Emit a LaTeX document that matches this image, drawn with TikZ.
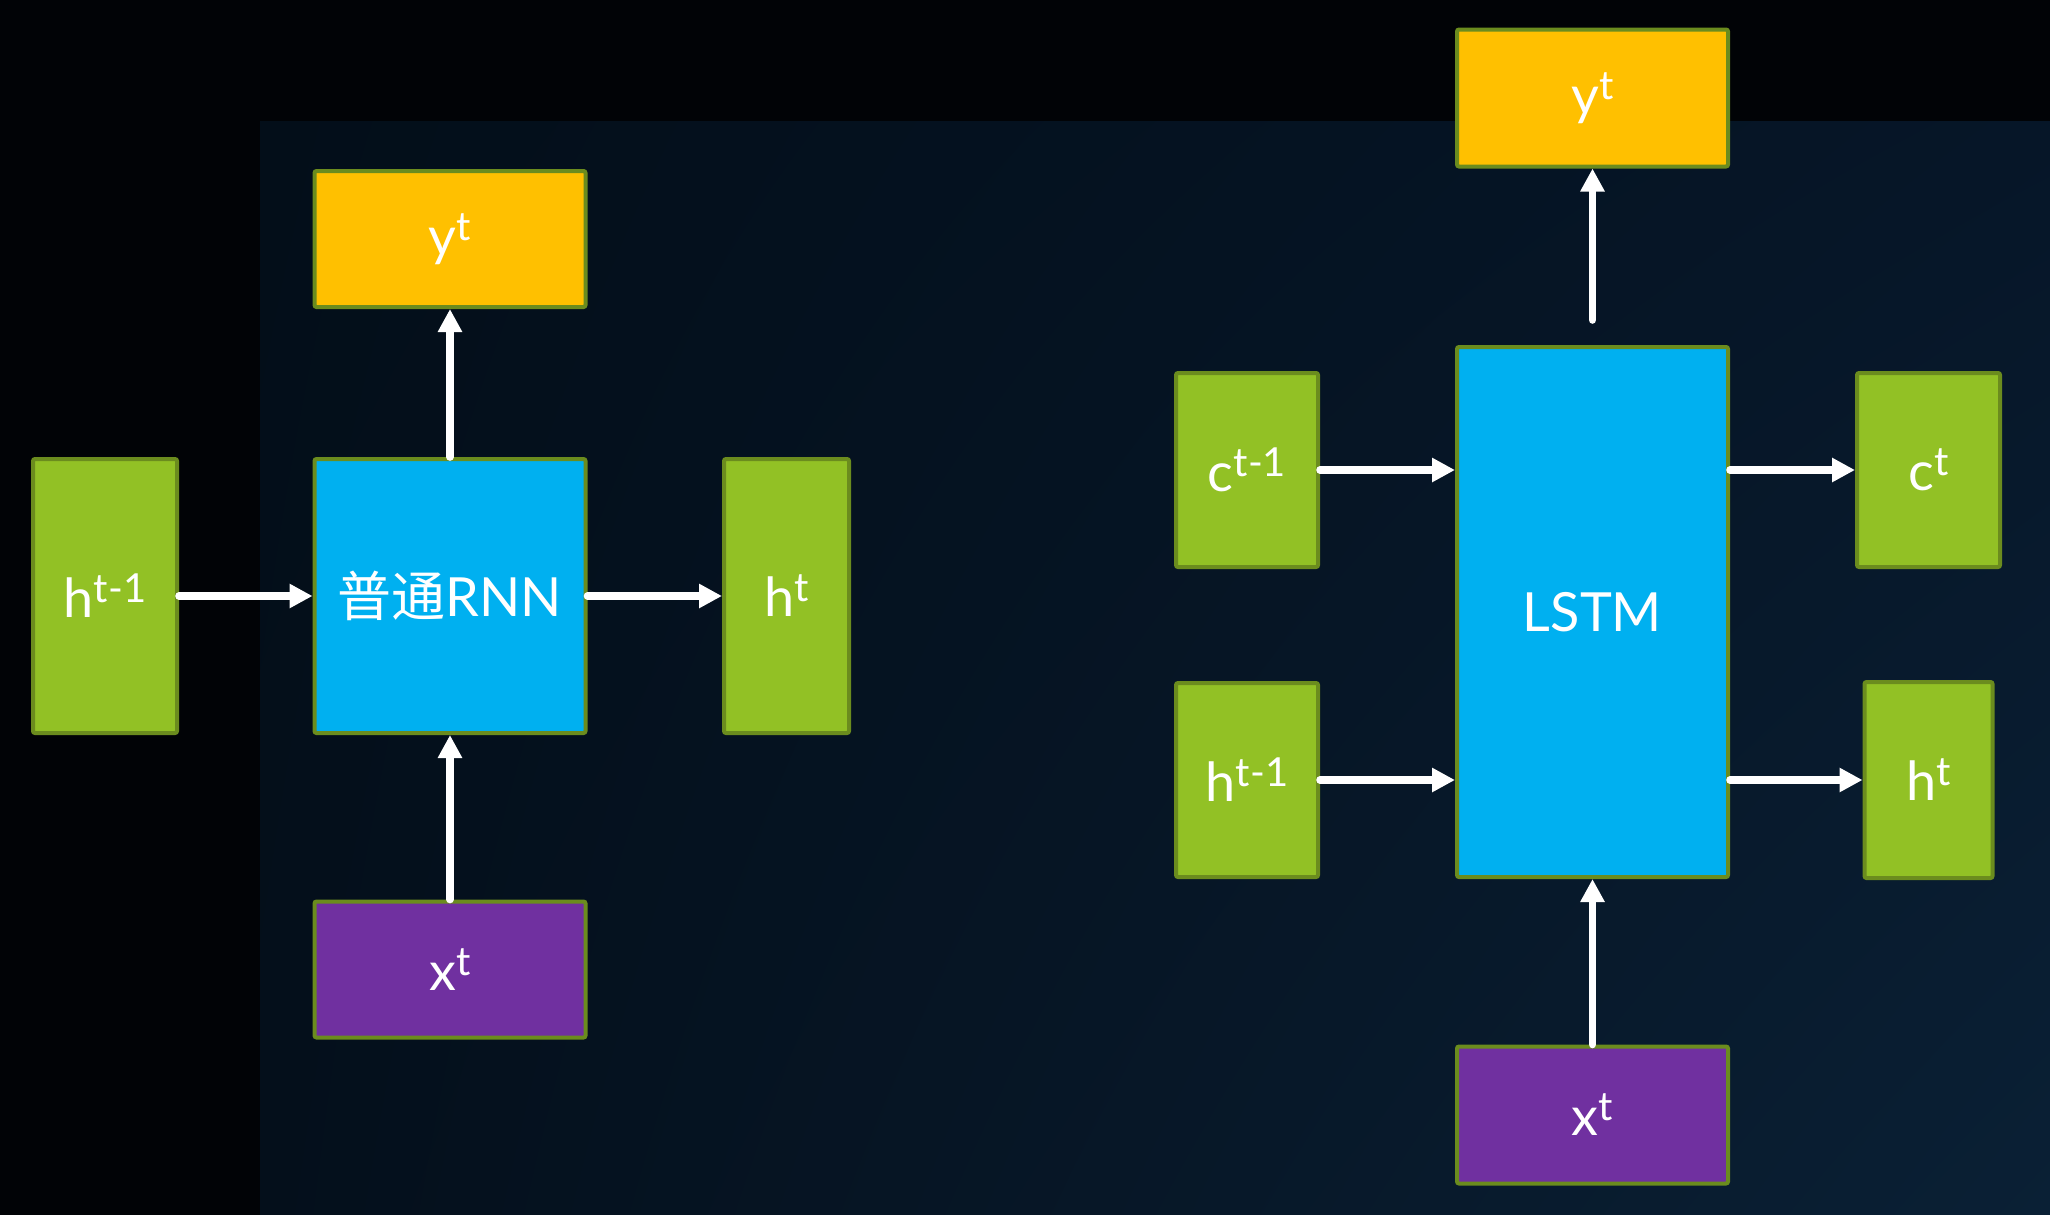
\documentclass[tikz,border=0pt]{standalone}
\usepackage{fontspec}
\setmainfont{Lato}
\newfontfamily\cjk{Noto Sans CJK SC}
\usetikzlibrary{arrows.meta,shadings}
\definecolor{gfill}{HTML}{92C125}
\definecolor{bord}{HTML}{6B8C1E}
\definecolor{bfill}{HTML}{00B0F0}
\definecolor{yfill}{HTML}{FFC000}
\definecolor{pfill}{HTML}{7030A0}
\definecolor{bgout}{HTML}{010306}
\definecolor{bgul}{HTML}{030E19}
\definecolor{bgur}{HTML}{061628}
\definecolor{bgll}{HTML}{040F1B}
\definecolor{bglr}{HTML}{0A2035}
\newcommand\sps[1]{\raisebox{7.5pt}{\fontsize{20}{20}\selectfont #1}}
\tikzset{
  box/.style={draw=bord, line width=2pt, rounded corners=1pt, inner sep=0pt,
    text=white, font=\fontsize{27}{32}\selectfont},
  gbox/.style={box, fill=gfill},
  bbox/.style={box, fill=bfill},
  ybox/.style={box, fill=yfill},
  pbox/.style={box, fill=pfill},
  arr/.style={white, line width=3.8pt, line cap=round,
    -{Triangle[length=11.5pt,width=11.5pt]}}
}
\begin{document}
\begin{tikzpicture}[x=0.5pt,y=-0.5pt]
\useasboundingbox (0,0) rectangle (2050,1215);
\fill[bgout] (0,0) rectangle (2050,1215);
\shade[upper left=bgul, upper right=bgur, lower left=bgll, lower right=bglr]
  (260,121) rectangle (2050,1215);

% left: plain RNN
\node[gbox, minimum width=72pt, minimum height=137pt] (hLa) at (105,596) {h\sps{t-1}};
\node[bbox, minimum width=135.5pt, minimum height=137pt] (rnn) at (450,596) {{\cjk 普通}RNN};
\node[ybox, minimum width=135.5pt, minimum height=68pt] (yL) at (450,239) {y\sps{t}};
\node[pbox, minimum width=135.5pt, minimum height=68pt] (xL) at (450,969.5) {x\sps{t}};
\node[gbox, minimum width=62.5pt, minimum height=137pt] (hL) at (786.5,596) {h\sps{t}};

% right: LSTM
\node[gbox, minimum width=71pt, minimum height=97pt] (c1) at (1247,470) {c\sps{t-1}};
\node[gbox, minimum width=71pt, minimum height=97pt] (h1) at (1247,780) {h\sps{t-1}};
\node[bbox, minimum width=135.5pt, minimum height=265pt] (lstm) at (1592.5,612) {LSTM};
\node[ybox, minimum width=135.5pt, minimum height=68.5pt] (yR) at (1592.5,98) {y\sps{t}};
\node[pbox, minimum width=135.5pt, minimum height=68.5pt] (xR) at (1592.5,1115) {x\sps{t}};
\node[gbox, minimum width=71.5pt, minimum height=97pt] (cR) at (1928.5,470) {c\sps{t}};
\node[gbox, minimum width=64pt, minimum height=98pt] (hR) at (1928.5,780) {h\sps{t}};

% connectors left
\draw[arr] (hLa.east) -- (rnn.west);
\draw[arr] (rnn.east) -- (hL.west);
\draw[arr] (rnn.north) -- (yL.south);
\draw[arr] (xL.north) -- (rnn.south);

% connectors right
\draw[arr] (c1.east) -- (c1.east -| lstm.west);
\draw[arr] (h1.east) -- (h1.east -| lstm.west);
\draw[arr] (cR.west -| lstm.east) -- (cR.west);
\draw[arr] (hR.west -| lstm.east) -- (hR.west);
\draw[arr, shorten <=12.5pt] (lstm.north) -- (yR.south);
\draw[arr] (xR.north) -- (lstm.south);
\end{tikzpicture}
\end{document}
